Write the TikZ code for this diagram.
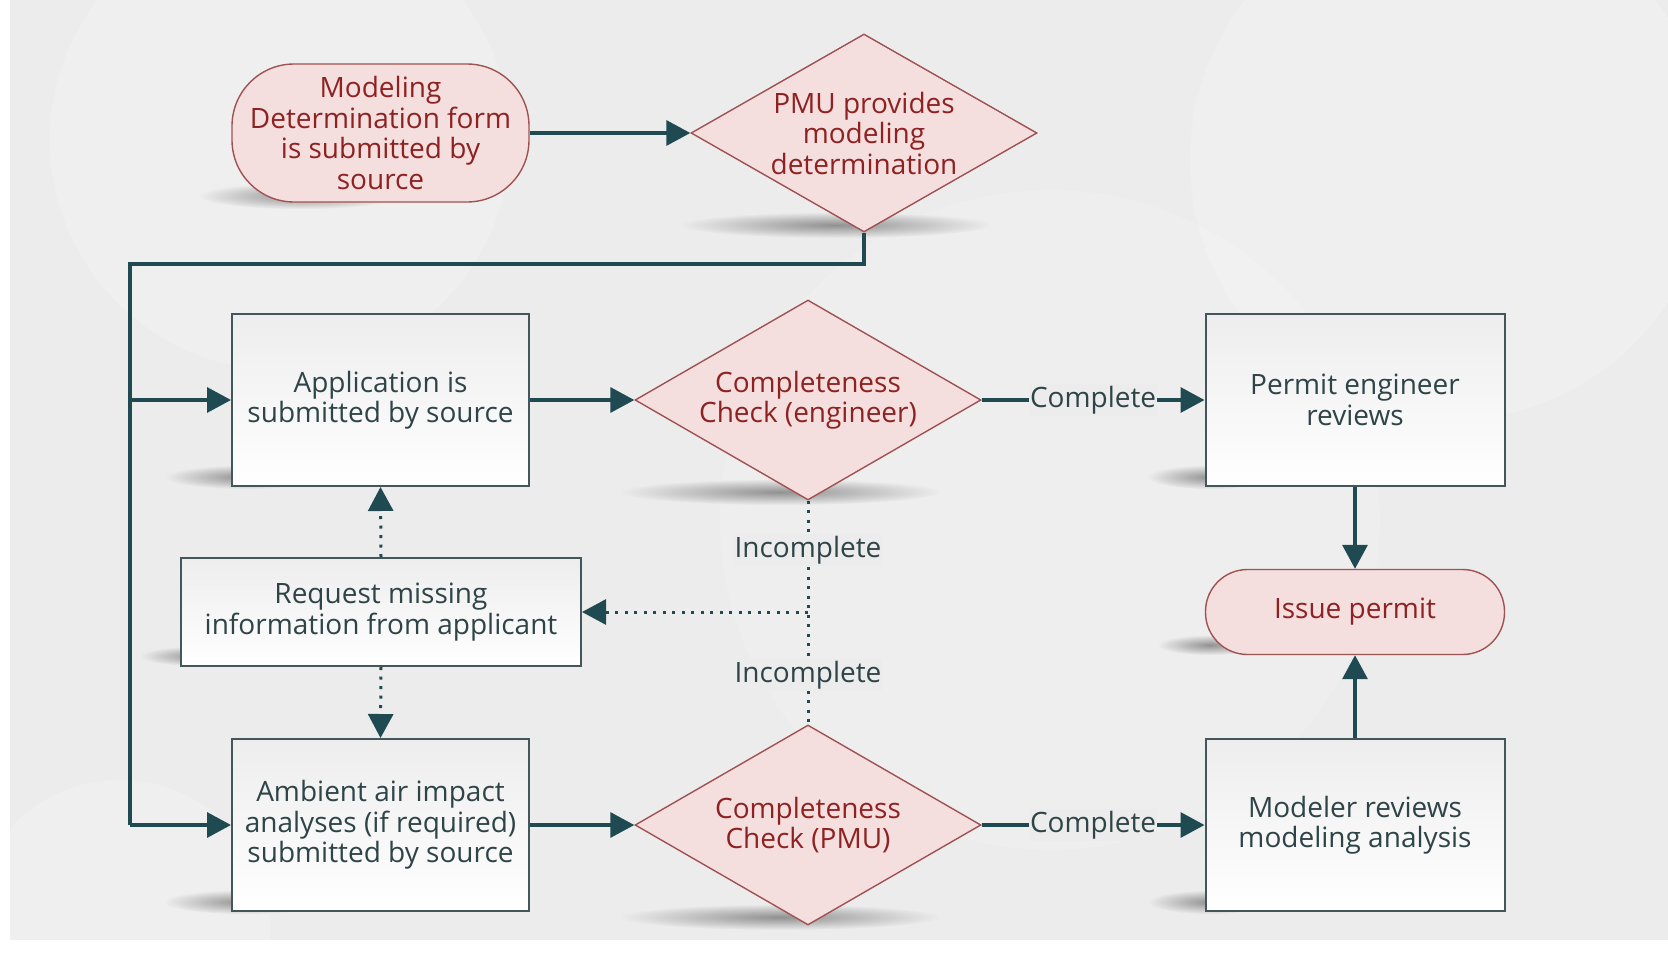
\documentclass[tikz,border=0pt]{standalone}
\usepackage{fontspec}
\setmainfont{Open Sans}
\usetikzlibrary{shapes.geometric,arrows.meta,calc}
\definecolor{bg}{HTML}{ECECEC}
\definecolor{teal}{HTML}{1F4A52}
\definecolor{pinkfill}{HTML}{F5DEDE}
\definecolor{pinkline}{HTML}{A05252}
\definecolor{redtext}{HTML}{8E2222}
\definecolor{boxline}{HTML}{44565A}
\definecolor{boxtext}{HTML}{2E4447}
\tikzset{
  base/.style={font=\fontsize{28}{30.5}\selectfont, align=center, inner sep=0pt},
  graybox/.style={base, draw=boxline, line width=2pt, top color=white!86!gray, bottom color=white, text=boxtext},
  pinkterm/.style={base, draw=pinkline, line width=1.4pt, fill=pinkfill, text=redtext},
  pinkdia/.style={draw=pinkline, line width=1.4pt, fill=pinkfill, diamond, inner sep=0pt, aspect=1.73},
  diatext/.style={base, text=redtext},
  conn/.style={draw=teal, line width=3.4pt, -{Triangle[length=24pt,width=25pt]}},
  trunk/.style={draw=teal, line width=3.4pt},
  dotconn/.style={draw=teal, line width=3pt, dash pattern=on 3pt off 6.5pt, -{Triangle[length=24pt,width=25pt]}},
  dotline/.style={draw=teal, line width=3pt, dash pattern=on 3pt off 6.5pt},
  lbl/.style={base, text=boxtext, fill=bg, inner xsep=1pt, inner ysep=2pt},
}
\newcommand{\blob}[4]{\shade[inner color=black!55, outer color=bg, opacity=0.75] (#1,#2) ellipse [x radius=#3, y radius=#4];}
\begin{document}
\begin{tikzpicture}[x=1pt,y=-1pt]
\useasboundingbox (0,0) rectangle (1668,961);
\fill[white] (0,0) rectangle (1668,961);
\fill[bg] (10,0) rectangle (1668,940);
% faint background circles
\fill[white, opacity=0.2] (280,140) circle (230);
\fill[white, opacity=0.2] (1450,160) circle (260);
\fill[white, opacity=0.2] (120,930) circle (150);
\fill[white, opacity=0.15] (1050,520) circle (330);
% shadows
\blob{300}{196}{100}{13}
\blob{835}{225}{155}{13}
\blob{245}{477}{80}{12}
\blob{780}{492}{160}{13}
\blob{200}{656}{60}{10}
\blob{1210}{477}{62}{12}
\blob{1210}{645}{52}{10}
\blob{245}{902}{80}{12}
\blob{780}{917}{160}{13}
\blob{1210}{902}{62}{12}
% nodes
\node[pinkterm, minimum width=297pt, minimum height=138pt, rounded corners=62pt] (start) at (380.5,133) {Modeling\\Determination form\\is submitted by\\source};
\node[pinkdia, minimum width=346pt, minimum height=198pt] (pmu) at (864,133) {};
\node[diatext] (pmut) at (864,133) {PMU provides\\modeling\\determination};
\node[graybox, minimum width=297pt, minimum height=172pt] (app) at (380.5,400) {Application is\\submitted by source};
\node[pinkdia, minimum width=346pt, minimum height=200pt] (ceng) at (808,400) {};
\node[diatext] (cengt) at (808,400) {Completeness\\Check (engineer)};
\node[graybox, minimum width=299pt, minimum height=172pt] (permit) at (1355,400) {Permit engineer\\reviews};
\node[pinkterm, minimum width=299pt, minimum height=85pt, rounded corners=42pt] (issue) at (1355,612) {Issue permit};
\node[graybox, minimum width=400pt, minimum height=108pt] (req) at (381,612) {Request missing\\information from applicant};
\node[graybox, minimum width=297pt, minimum height=172pt] (amb) at (380.5,825) {Ambient air impact\\analyses (if required)\\submitted by source};
\node[pinkdia, minimum width=346pt, minimum height=200pt] (cpmu) at (808,825) {};
\node[diatext] (cpmut) at (808,825) {Completeness\\Check (PMU)};
\node[graybox, minimum width=299pt, minimum height=172pt] (model) at (1355,825) {Modeler reviews\\modeling analysis};
% coordinates
\coordinate (tr1) at (864,264);
\coordinate (tr2) at (130,264);
\coordinate (tr3) at (130,825);
\coordinate (tra) at (130,400);
\coordinate (mid) at (808,612);
% connectors
\draw[conn] (start.east) -- (pmu.west);
\draw[trunk] (pmu.south) -- (tr1) -- (tr2) -- (tr3);
\draw[conn] (tra) -- (app.west);
\draw[conn] (tr3) -- (amb.west);
\draw[conn] (app.east) -- (ceng.west);
\draw[conn] (amb.east) -- (cpmu.west);
\draw[conn] (ceng.east) -- node[lbl] (l1) {Complete} (permit.west);
\draw[conn] (cpmu.east) -- node[lbl] (l2) {Complete} (model.west);
\draw[conn] (permit.south) -- (issue.north);
\draw[conn] (model.north) -- (issue.south);
\draw[dotline] (ceng.south) -- (cpmu.north);
\node[lbl] (inc1) at (808,550) {Incomplete};
\node[lbl] (inc2) at (808,675) {Incomplete};
\draw[dotconn] (mid) -- (req.east);
\draw[dotconn] (req.north) -- (app.south);
\draw[dotconn] (req.south) -- (amb.north);
\end{tikzpicture}
\end{document}
